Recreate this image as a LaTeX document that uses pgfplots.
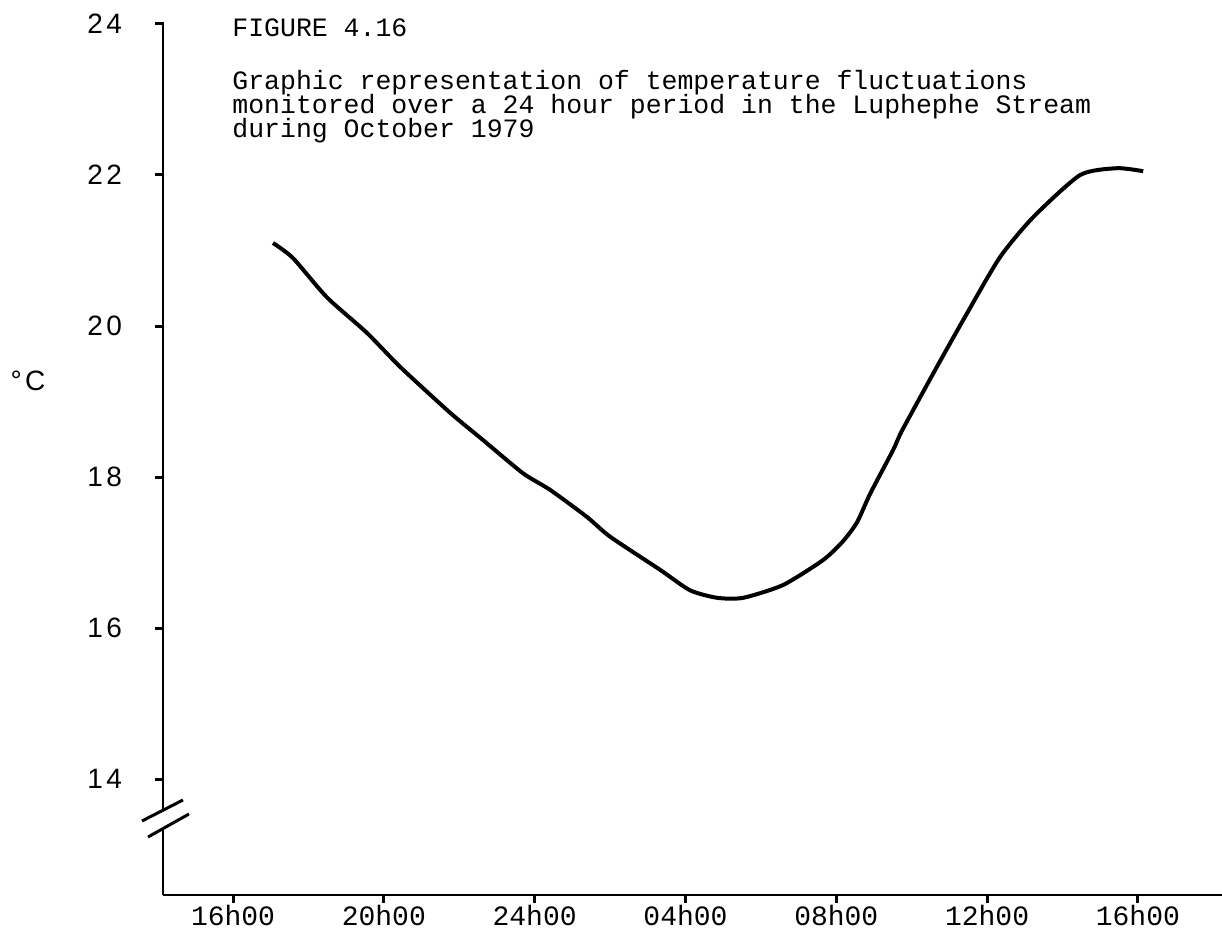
\documentclass[border=0pt]{standalone}
\usepackage{fontspec}
\setmainfont{Liberation Sans}
\newfontfamily\tw{Liberation Mono}
\newfontfamily\lab[LetterSpace=12]{Liberation Sans}
\usepackage{pgfplots}
\pgfplotsset{compat=1.18}
\begin{document}
\begin{tikzpicture}
\useasboundingbox (-81.5pt,-16.5pt) rectangle (529.5pt,447.5pt);
\begin{scope}
\clip (-81.5pt,-16.5pt) rectangle (529.5pt,447.5pt);
\begin{axis}[
  scale only axis, width=531pt, height=435.5pt,
  xmin=-1.857, xmax=26.31, ymin=12.464, ymax=24,
  axis x line=bottom, axis y line=left,
  axis line style={-, line width=1.4pt},
  y axis line style={draw=none},
  /pgf/number format/assume math mode=true,
  xtick={0,4,8,12,16,20,24},
  xticklabels={16h00,20h00,24h00,04h00,08h00,12h00,16h00},
  ytick={14,16,18,20,22,24},
  yticklabels={14,16,18,20,22,24},
  tick align=outside, major tick length=4pt,
  tick style={line width=1.5pt, black},
  yticklabel style={font=\lab\fontsize{14}{16}\selectfont, xshift=-13pt},
  xticklabel style={font=\tw\fontsize{14}{16}\selectfont, anchor=base, inner sep=0pt, yshift=-11pt},
  clip=false,
]
\addplot[line width=2pt, smooth, tension=0.4, black] coordinates {
(1.06,21.10) (1.59,20.90) (2.49,20.38) (3.55,19.91) (4.43,19.46)
(5.76,18.85) (6.63,18.49) (7.69,18.05) (8.41,17.83) (9.39,17.47)
(10.00,17.21) (11.33,16.77) (12.12,16.50) (12.84,16.40) (13.53,16.40)
(14.59,16.57) (15.65,16.90) (16.18,17.15) (16.55,17.40) (16.90,17.78)
(17.51,18.36) (17.75,18.62) (18.67,19.46) (19.47,20.17) (20.34,20.91)
(21.22,21.44) (22.47,22.00) (23.45,22.09) (24.14,22.05)
};
\end{axis}
\end{scope}
% y axis line with break
\draw[line width=1.4pt] (0,0) -- (0,33.2pt);
\draw[line width=1.4pt] (0,42.5pt) -- (0,436.5pt);
\draw[line width=1.5pt] (-10.5pt,37pt) -- (10pt,47.5pt);
\draw[line width=1.5pt] (-7.5pt,29pt) -- (13pt,40.5pt);
% unit label
\node[font=\lab\fontsize{14}{16}\selectfont] at (-67.5pt,257pt) {°C};
% caption
\begin{scope}[every node/.style={anchor=base west, inner sep=0pt, font=\tw\fontsize{13.25}{15}\selectfont}]
\node at (34.5pt,429pt) {FIGURE 4.16};
\node at (34.5pt,402.5pt) {Graphic representation of temperature fluctuations};
\node at (34.5pt,390.5pt) {monitored over a 24 hour period in the Luphephe Stream};
\node at (34.5pt,378.5pt) {during October 1979};
\end{scope}
\end{tikzpicture}
\end{document}
